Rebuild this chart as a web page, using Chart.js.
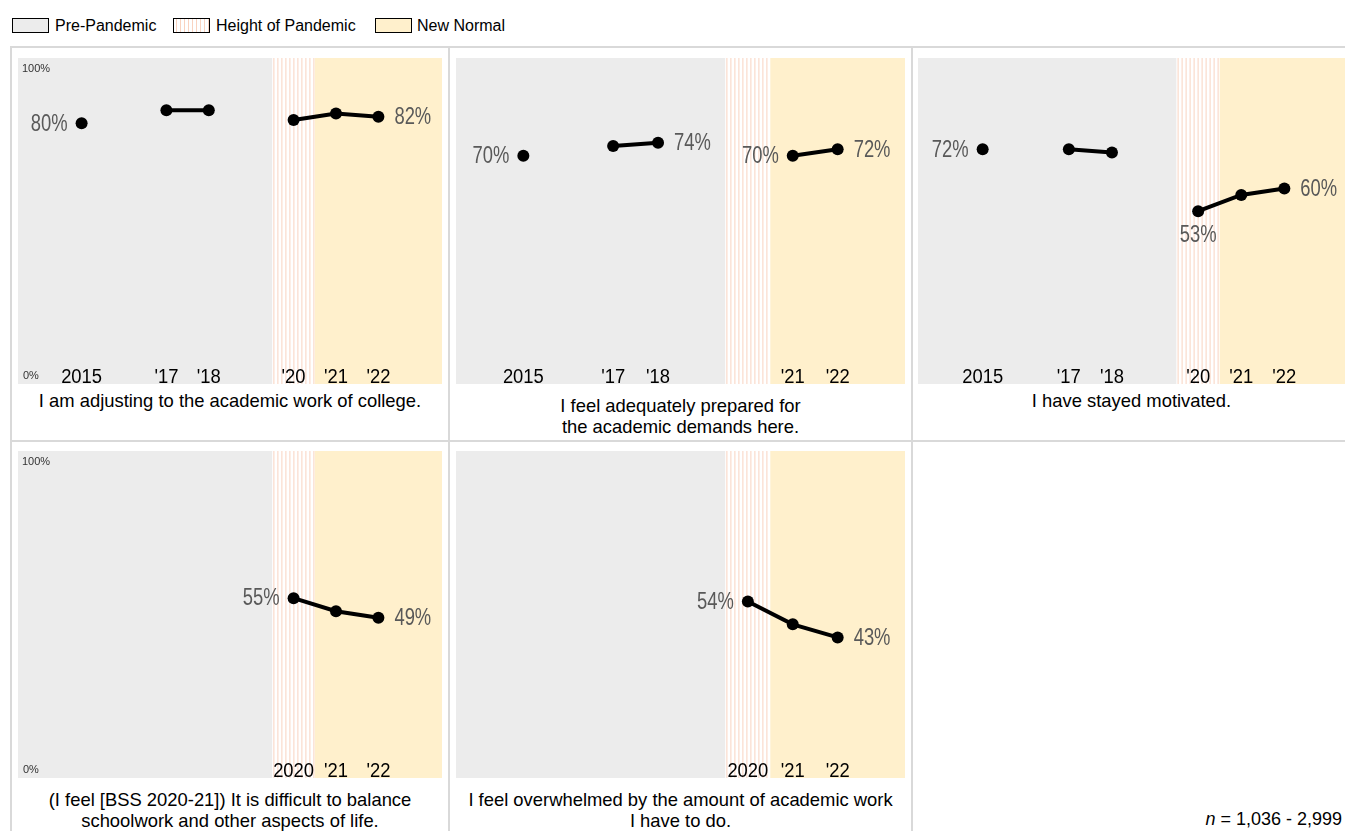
<!DOCTYPE html>
<html>
<head>
<meta charset="utf-8">
<script src="https://cdn.jsdelivr.net/npm/chart.js@4.4.1/dist/chart.umd.min.js"></script>
<style>
  html, body { margin: 0; padding: 0; background: #fff; }
  body { width: 1345px; height: 831px; position: relative; overflow: hidden; font-family: "Liberation Sans", Arial, sans-serif; }
  .legend { position: absolute; top: 17px; left: 0; height: 22px; font-size: 16px; color: #000; }
  .legend span { position: absolute; top: 0px; white-space: nowrap; }
  .legend i { position: absolute; top: 1px; width: 35px; height: 13px; border: 1.5px solid #000; }
  .hline { position: absolute; height: 2px; background: #d9d9d9; }
  .vline { position: absolute; width: 2px; background: #d9d9d9; }
  canvas { position: absolute; }
  .caption { position: absolute; text-align: center; font-size: 18.4px; line-height: 21px; color: #000; }
  .note { position: absolute; right: 3px; top: 809px; font-size: 18px; color: #000; }
</style>
</head>
<body>
<div class="legend">
  <i style="left:12px; background:#ececec;"></i><span style="left:55px;">Pre-Pandemic</span>
  <i style="left:173px; background:repeating-linear-gradient(90deg,#fff 0 2px,#f9d3c0 2px 3px,#fff 3px 4px);"></i><span style="left:216px;">Height of Pandemic</span>
  <i style="left:375px; background:#fff0cc;"></i><span style="left:417px;">New Normal</span>
</div>

<div class="hline" style="left:10px; top:46px; width:1340px;"></div>
<div class="hline" style="left:10px; top:440px; width:1340px;"></div>
<div class="vline" style="left:10px; top:46px; height:790px;"></div>
<div class="vline" style="left:448px; top:46px; height:790px;"></div>
<div class="vline" style="left:911px; top:46px; height:790px;"></div>

<canvas id="c1" width="424" height="326" style="left:18px; top:58px;"></canvas>
<canvas id="c2" width="449" height="326" style="left:456px; top:58px;"></canvas>
<canvas id="c3" width="431" height="326" style="left:918px; top:58px;"></canvas>
<canvas id="c4" width="424" height="327" style="left:18px; top:451px;"></canvas>
<canvas id="c5" width="449" height="327" style="left:456px; top:451px;"></canvas>

<div class="caption" style="left:18px; width:424px; top:390px;">I am adjusting to the academic work of college.</div>
<div class="caption" style="left:456px; width:449px; top:395px;">I feel adequately prepared for<br>the academic demands here.</div>
<div class="caption" style="left:918px; width:427px; top:390px;">I have stayed motivated.</div>
<div class="caption" style="left:18px; width:424px; top:789px;">(I feel [BSS 2020-21]) It is difficult to balance<br>schoolwork and other aspects of life.</div>
<div class="caption" style="left:456px; width:449px; top:789px;">I feel overwhelmed by the amount of academic work<br>I have to do.</div>
<div class="note"><i>n</i> = 1,036 - 2,999</div>

<script>
// survey years and short tick labels
const years = [2015, 2016, 2017, 2018, 2019, 2020, 2021, 2022];
const yearLabels = ['2015', '', "'17", "'18", '', "'20", "'21", "'22"];

// percent agreeing, one array per statement (null = not asked)
const adjustingValues   = [80, null, 84, 84, null, 81, 83, 82];
const preparedValues    = [70, null, 73, 74, null, null, 70, 72];
const motivatedValues   = [72, null, 72, 71, null, 53, 58, 60];
const balanceValues     = [null, null, null, null, null, 55, 51, 49];
const overwhelmedValues = [null, null, null, null, null, 54, 47, 43];

// which points carry a value label, and on which side
const adjustingLabels   = { 0: 'left', 7: 'right' };
const preparedLabels    = { 0: 'left', 3: 'right', 6: 'left', 7: 'right' };
const motivatedLabels   = { 0: 'left', 5: 'below', 7: 'right' };
const balanceLabels     = { 5: 'left', 7: 'right' };
const overwhelmedLabels = { 5: 'left', 7: 'right' };

// era bands
const preStart = 2013.5, pandemicStart = 2019.5, normalStart = 2020.5, axisEnd = 2023.5;

var bandsPlugin = {
  id: 'bands',
  beforeDatasetsDraw: function(chart, args, opts) {
    let ctx = chart.ctx;
    let x = chart.scales.x;
    let area = chart.chartArea;
    let x0 = x.getPixelForValue(preStart);
    let x1 = x.getPixelForValue(pandemicStart);
    let x2 = x.getPixelForValue(normalStart);
    let x3 = x.getPixelForValue(axisEnd);
    ctx.save();
    ctx.fillStyle = '#ececec';
    ctx.fillRect(x0, area.top, x1 - x0, area.bottom - area.top);
    ctx.fillStyle = '#ffffff';
    ctx.fillRect(x1, area.top, x2 - x1, area.bottom - area.top);
    ctx.strokeStyle = '#f9d3c0';
    ctx.lineWidth = 1;
    for (let sx = x1 + 1.5; sx < x2; sx += 4) {
      ctx.beginPath();
      ctx.moveTo(sx, area.top);
      ctx.lineTo(sx, area.bottom);
      ctx.stroke();
    }
    ctx.fillStyle = '#fff0cc';
    ctx.fillRect(x2, area.top, x3 - x2, area.bottom - area.top);

    // year ticks, only where there is data
    let values = chart.data.datasets[0].data;
    let first = true;
    ctx.fillStyle = '#000';
    ctx.font = '20px "Liberation Sans", Arial, sans-serif';
    ctx.textAlign = 'center';
    ctx.textBaseline = 'alphabetic';
    values.forEach(function(p, i) {
      if (p.y === null) return;
      let label = first ? String(years[i]) : yearLabels[i];
      first = false;
      ctx.save();
      ctx.translate(x.getPixelForValue(years[i]), area.bottom - 1);
      ctx.scale(0.92, 1);
      ctx.fillText(label, 0, 0);
      ctx.restore();
    });

    if (opts.showAxis) {
      ctx.fillStyle = '#333';
      ctx.font = '11px "Liberation Sans", Arial, sans-serif';
      ctx.textAlign = 'left';
      ctx.textBaseline = 'top';
      ctx.fillText('100%', area.left + 4, area.top + 5);
      ctx.textBaseline = 'alphabetic';
      ctx.fillText('0%', area.left + 5, area.bottom - 5);
    }
    ctx.restore();
  }
};

var valueLabelsPlugin = {
  id: 'valueLabels',
  afterDatasetsDraw: function(chart, args, opts) {
    let ctx = chart.ctx;
    let meta = chart.getDatasetMeta(0);
    let data = chart.data.datasets[0].data;
    ctx.save();
    ctx.fillStyle = '#595959';
    ctx.font = '23px "Liberation Sans", Arial, sans-serif';
    ctx.textBaseline = 'middle';
    Object.keys(opts.where || {}).forEach(function(k) {
      let i = Number(k);
      let pt = meta.data[i];
      let text = data[i].y + '%';
      let side = opts.where[k];
      let tx, ty;
      if (side === 'left') {
        ctx.textAlign = 'right'; tx = pt.x - 14; ty = pt.y + 1;
      } else if (side === 'right') {
        ctx.textAlign = 'left'; tx = pt.x + 16; ty = pt.y + 1;
      } else {
        ctx.textAlign = 'center'; tx = pt.x; ty = pt.y + 24;
      }
      // squeeze to mimic the narrow face of the original
      ctx.save();
      ctx.translate(tx, ty);
      ctx.scale(0.8, 1);
      ctx.fillText(text, 0, 0);
      ctx.restore();
    });
    ctx.restore();
  }
};

function makePanel(id, values, labelSides, showAxis)
{
  let points = years.map(function(y, i) { return { x: y, y: values[i] }; });
  let ctx = document.getElementById(id).getContext('2d');
  return new Chart(ctx, {
    type: 'line',
    data: {
      datasets: [{
        data: points,
        borderColor: '#000',
        backgroundColor: '#000',
        borderWidth: 4,
        pointRadius: 6,
        pointBorderWidth: 0,
        spanGaps: false,
        clip: false
      }]
    },
    options: {
      responsive: false,
      animation: false,
      layout: { padding: 0, autoPadding: false },
      scales: {
        x: { type: 'linear', min: preStart, max: axisEnd, display: false },
        y: { min: 0, max: 100, display: false }
      },
      plugins: {
        legend: { display: false },
        tooltip: { enabled: false },
        bands: { showAxis: showAxis },
        valueLabels: { where: labelSides }
      }
    },
    plugins: [bandsPlugin, valueLabelsPlugin]
  });
}

makePanel('c1', adjustingValues, adjustingLabels, true);
makePanel('c2', preparedValues, preparedLabels, false);
makePanel('c3', motivatedValues, motivatedLabels, false);
makePanel('c4', balanceValues, balanceLabels, true);
makePanel('c5', overwhelmedValues, overwhelmedLabels, false);
</script>
</body>
</html>
